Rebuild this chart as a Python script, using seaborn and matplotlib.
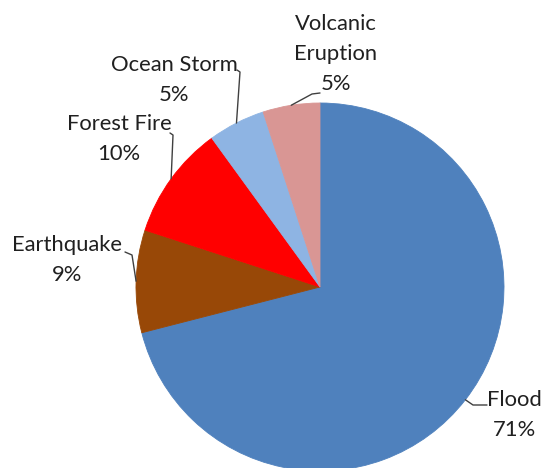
import matplotlib
matplotlib.use("Agg")
import matplotlib.pyplot as plt
import seaborn as sns
import numpy as np

categories = ["Flood", "Earthquake", "Forest Fire", "Ocean Storm", "Volcanic Eruption"]
label_names = ["Flood", "Earthquake", "Forest Fire", "Ocean Storm", "Volcanic\nEruption"]
shares = [71, 9, 10, 5, 5]
colors = ["#4F81BD", "#984807", "#FF0000", "#8EB4E3", "#D99694"]

# layout, in pixels from the top-left corner
W, H = 544, 468
cx, cy, r = 320, 287, 184
label_xy = {
    "Flood": (514, 415),
    "Earthquake": (67, 260),
    "Forest Fire": (119, 139),
    "Ocean Storm": (174, 80),
    "Volcanic Eruption": (336, 54),
}
leader_path = {
    "Flood": [(473, 405), (487, 405)],
    "Earthquake": [(132, 255), (125, 252)],
    "Forest Fire": [(173, 135), (170, 133)],
    "Ocean Storm": [(240, 72), (237, 70)],
    "Volcanic Eruption": [(312, 94), (320, 93)],
}

sns.set_theme(style="white")
plt.rcParams["font.family"] = ["Lato", "DejaVu Sans"]
palette = sns.color_palette(colors)

fig = plt.figure(figsize=(W / 100, H / 100), dpi=100)
ax = fig.add_axes([0, 0, 1, 1])
wedges, _ = ax.pie(shares, colors=palette, startangle=90, counterclock=False,
                   center=(cx, H - cy), radius=r, frame=True,
                   wedgeprops=dict(linewidth=0.6))
for w in wedges:
    w.set_edgecolor(w.get_facecolor())
ax.set_xlim(0, W)
ax.set_ylim(0, H)
ax.axis("off")

total = sum(shares)
for w, cat, name, share in zip(wedges, categories, label_names, shares):
    mid = np.deg2rad((w.theta1 + w.theta2) / 2)
    x0 = cx + r * np.cos(mid)
    y0 = (H - cy) + r * np.sin(mid)
    pts = [(x0, y0)] + [(x, H - y) for x, y in leader_path[cat]]
    ax.plot(*zip(*pts), color="#404040", lw=1)
    tx, ty = label_xy[cat]
    ax.text(tx, H - ty, f"{name}\n{share / total:.0%}", ha="center", va="center",
            fontsize=15.8, linespacing=1.6, color="#202020")

fig.savefig("out.png", dpi=100)
